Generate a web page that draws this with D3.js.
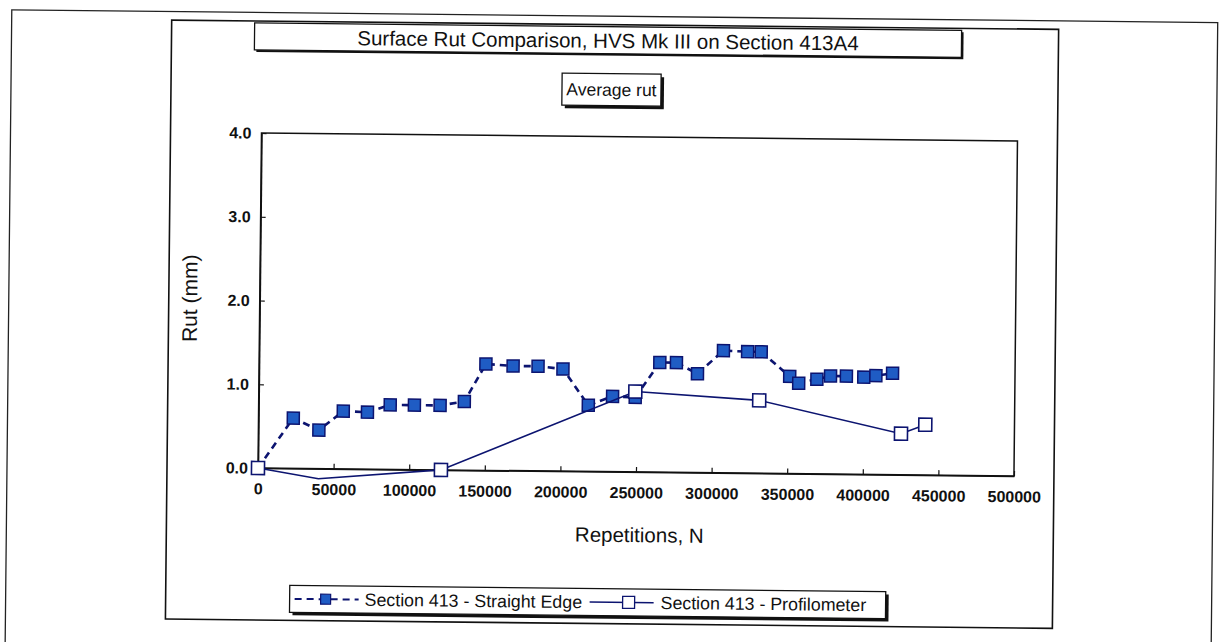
<!DOCTYPE html>
<html>
<head>
<meta charset="utf-8">
<script src="https://cdn.jsdelivr.net/npm/d3@7"></script>
<style>
  html, body { margin: 0; padding: 0; background: #fff; }
  svg { display: block; }
  text { font-family: "Liberation Sans", Arial, sans-serif; fill: #111; }
</style>
</head>
<body>
<svg id="chart" width="1224" height="642"></svg>
<script>
// ---- data ----
const titleText = "Surface Rut Comparison, HVS Mk III on Section 413A4";
const subtitleText = "Average rut";
const xLabel = "Repetitions, N";
const yLabel = "Rut (mm)";
const seriesNames = ["Section 413 - Straight Edge", "Section 413 - Profilometer"];

const straightN   = [0, 23000, 40000, 56000, 72000, 87000, 103000, 120000, 136000, 150000, 168000, 184500, 201000, 218000, 234000, 249000, 265000, 276000, 290000, 307000, 323000, 332000, 351000, 357000, 369000, 378000, 388500, 400000, 408000, 419000];
const straightRut = [0.00, 0.60, 0.46, 0.69, 0.68, 0.77, 0.77, 0.77, 0.82, 1.27, 1.25, 1.25, 1.22, 0.79, 0.90, 0.89, 1.31, 1.31, 1.18, 1.46, 1.45, 1.45, 1.16, 1.08, 1.13, 1.17, 1.17, 1.16, 1.18, 1.21];

const profN   = [0, 40000, 121000, 249000, 331000, 425000, 441000];
const profRut = [0.00, -0.12, 0.00, 0.96, 0.87, 0.49, 0.60];

const xTicks = [0, 50000, 100000, 150000, 200000, 250000, 300000, 350000, 400000, 450000, 500000];
const yTicks = [0, 1, 2, 3, 4];

// ---- layout ----
const navy = "#0c1470";
const blueFill = "#1f5cc4";
const svg = d3.select("#chart");
const root = svg.append("g").attr("transform", "rotate(0.6 258 468)");

const x = d3.scaleLinear().domain([0, 500000]).range([258, 1014]);
const y = d3.scaleLinear().domain([0, 4]).range([468, 133]);

// page border
root.append("rect").attr("x", 7).attr("y", 12.5).attr("width", 1206).attr("height", 720)
  .attr("fill", "none").attr("stroke", "#222").attr("stroke-width", 1.3);

// chart frame
root.append("rect").attr("x", 167).attr("y", 21).attr("width", 887).attr("height", 599)
  .attr("fill", "none").attr("stroke", "#111").attr("stroke-width", 1.6);

// boxes with drop shadow
function shadowBox(bx, by, bw, bh, off) {
  root.append("rect").attr("x", bx + off).attr("y", by + off).attr("width", bw).attr("height", bh).attr("fill", "#111");
  root.append("rect").attr("x", bx).attr("y", by).attr("width", bw).attr("height", bh)
    .attr("fill", "#fff").attr("stroke", "#111").attr("stroke-width", 1.3);
}
shadowBox(250, 23, 707, 27, 2);
root.append("text").attr("x", 603.5).attr("y", 37).attr("dy", "0.35em")
  .attr("text-anchor", "middle").style("font-size", "20.5px").text(titleText);

shadowBox(558, 70, 99, 32, 3);
root.append("text").attr("x", 607.5).attr("y", 86).attr("dy", "0.35em")
  .attr("text-anchor", "middle").style("font-size", "17.5px").text(subtitleText);

// plot area border
root.append("rect").attr("x", x(0)).attr("y", y(4)).attr("width", x(500000) - x(0)).attr("height", y(0) - y(4))
  .attr("fill", "none").attr("stroke", "#111").attr("stroke-width", 1.5);

// axes
const xAxis = root.append("g").attr("transform", `translate(0,${y(0)})`)
  .call(d3.axisBottom(x).tickValues(xTicks).tickFormat(d3.format("d")).tickSizeInner(-5).tickSizeOuter(0).tickPadding(15));
const yAxis = root.append("g").attr("transform", `translate(${x(0)},0)`)
  .call(d3.axisLeft(y).tickValues(yTicks).tickFormat(d3.format(".1f")).tickSizeInner(-5).tickSizeOuter(0).tickPadding(10));
[xAxis, yAxis].forEach(g => {
  g.select(".domain").attr("stroke", "#111").attr("stroke-width", 1.5);
  g.selectAll(".tick line").attr("stroke", "#111").attr("stroke-width", 1.2);
  g.selectAll(".tick text").style("font-size", "16px").style("font-weight", "bold")
    .style("font-family", "'Liberation Sans', Arial, sans-serif").attr("fill", "#111");
});

// axis titles
root.append("text").attr("x", 640).attr("y", 531).attr("dy", "0.35em").attr("text-anchor", "middle")
  .style("font-size", "20.5px").text(xLabel);
root.append("text").attr("transform", "translate(188,299) rotate(-90)").attr("dy", "0.35em").attr("text-anchor", "middle")
  .style("font-size", "21px").text(yLabel);

// series
const se = straightN.map((n, i) => ({ n, r: straightRut[i] }));
const pr = profN.map((n, i) => ({ n, r: profRut[i] }));
const line = d3.line().x(d => x(d.n)).y(d => y(d.r));
const ms = 12;

root.append("path").datum(se).attr("d", line).attr("fill", "none")
  .attr("stroke", navy).attr("stroke-width", 2.6).attr("stroke-dasharray", "7,5");
root.selectAll(".se").data(se).join("rect").attr("class", "se")
  .attr("x", d => x(d.n) - ms / 2).attr("y", d => y(d.r) - ms / 2).attr("width", ms).attr("height", ms)
  .attr("fill", blueFill).attr("stroke", navy).attr("stroke-width", 1.5);

root.append("path").datum(pr).attr("d", line).attr("fill", "none")
  .attr("stroke", navy).attr("stroke-width", 1.6);
root.selectAll(".pr").data(pr.filter(d => d.r >= 0)).join("rect").attr("class", "pr")
  .attr("x", d => x(d.n) - 6.5).attr("y", d => y(d.r) - 6.5).attr("width", 13).attr("height", 13)
  .attr("fill", "#fff").attr("stroke", navy).attr("stroke-width", 1.6);

// legend
shadowBox(291, 585, 596, 27, 3);
const ly = 598.5;
root.append("line").attr("x1", 296).attr("x2", 360).attr("y1", ly).attr("y2", ly)
  .attr("stroke", navy).attr("stroke-width", 2).attr("stroke-dasharray", "7,5");
root.append("rect").attr("x", 322).attr("y", ly - 5).attr("width", 10).attr("height", 10)
  .attr("fill", blueFill).attr("stroke", navy).attr("stroke-width", 1.2);
root.append("text").attr("x", 366).attr("y", ly).attr("dy", "0.35em").style("font-size", "17.8px").text(seriesNames[0]);
root.append("line").attr("x1", 591).attr("x2", 655).attr("y1", ly).attr("y2", ly)
  .attr("stroke", navy).attr("stroke-width", 1.5);
root.append("rect").attr("x", 624).attr("y", ly - 6).attr("width", 12).attr("height", 12)
  .attr("fill", "#fff").attr("stroke", navy).attr("stroke-width", 1.3);
root.append("text").attr("x", 662).attr("y", ly).attr("dy", "0.35em").style("font-size", "17.8px").text(seriesNames[1]);
</script>
</body>
</html>
